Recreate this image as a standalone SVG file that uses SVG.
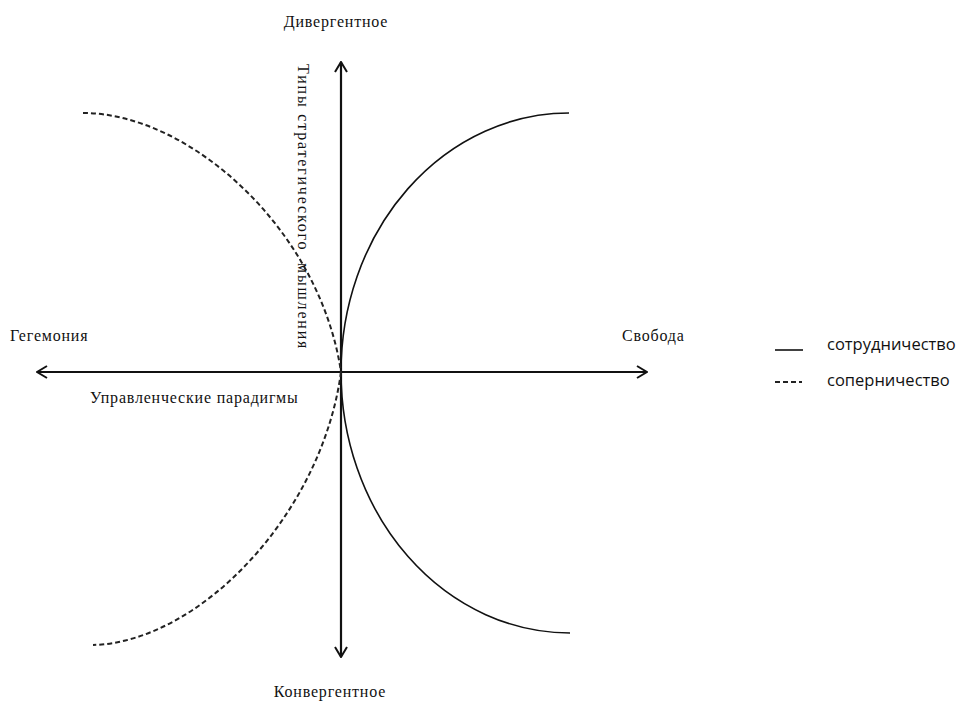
<svg xmlns="http://www.w3.org/2000/svg" width="959" height="702" viewBox="0 0 959 702">
<style>
.lbl{font-family:"Liberation Serif","Times New Roman",serif;font-size:16px;fill:#111;letter-spacing:0.8px}
.vert{letter-spacing:1.8px}
.leg{font-family:"Open Sans","DejaVu Sans",sans-serif;font-size:16.5px;fill:#111}
.axis{stroke:#111;stroke-width:2.2;fill:none}
.solid{stroke:#111;stroke-width:1.6;fill:none}
.dash{stroke:#222;stroke-width:2;fill:none;stroke-dasharray:5 3}
</style>
<defs>
<marker id="arr" viewBox="0 0 12 14" refX="11" refY="7" markerWidth="12" markerHeight="14" markerUnits="userSpaceOnUse" orient="auto">
<path d="M1,1 L11,7 L1,13" fill="none" stroke="#111" stroke-width="2"/>
</marker>
</defs>
<rect width="959" height="702" fill="#fff"/>
<g id="connectors">
<path class="axis" d="M341,372 L341,62" marker-end="url(#arr)"/>
<path class="axis" d="M341,372 L341,657" marker-end="url(#arr)"/>
<path class="axis" d="M341,372 L647,372" marker-end="url(#arr)"/>
<path class="axis" d="M341,372 L37,372" marker-end="url(#arr)"/>
<path class="solid" d="M341,372 A228 259 0 0 1 569,113"/>
<path class="solid" d="M341,372 A229 261 0 0 0 570,633"/>
<path class="dash" d="M83,113 C190,113 320,230 341,372"/>
<path class="dash" d="M341,372 C322,514 200,642 93,645"/>
</g>
<g id="label-divergent"><text class="lbl" x="336" y="27" text-anchor="middle">Дивергентное</text></g>
<g id="label-convergent"><text class="lbl" x="330" y="697" text-anchor="middle">Конвергентное</text></g>
<g id="label-hegemony"><text class="lbl" x="10" y="341">Гегемония</text></g>
<g id="label-freedom"><text class="lbl" x="622" y="341">Свобода</text></g>
<g id="label-paradigms"><text class="lbl" x="90" y="403">Управленческие парадигмы</text></g>
<g id="label-thinking"><text class="lbl vert" transform="translate(298,64) rotate(90)"><tspan x="0">Типы стратегического</tspan><tspan x="199">мышления</tspan></text></g>
<g id="legend">
<line class="solid" x1="775" y1="350" x2="803" y2="350"/>
<text class="leg" x="827" y="350">сотрудничество</text>
<line class="dash" x1="775" y1="382" x2="802" y2="382"/>
<text class="leg" x="827" y="386">соперничество</text>
</g>
</svg>
